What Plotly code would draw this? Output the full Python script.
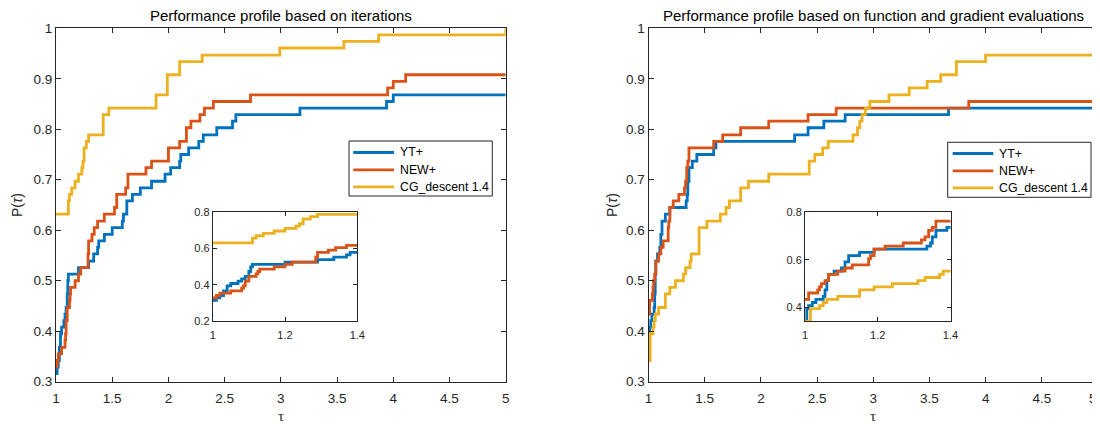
import plotly.graph_objects as go

# ---------------- data: performance profiles (step functions) ----------------
# Left panel: based on iterations
it_yt_tau = [1.0, 1.01, 1.02, 1.03, 1.04, 1.05, 1.07, 1.08, 1.09, 1.10, 1.105, 1.11,
             1.20, 1.29, 1.335, 1.37, 1.38, 1.43, 1.50, 1.59, 1.60, 1.63, 1.68, 1.75,
             1.85, 1.97, 2.02, 2.10, 2.11, 2.18, 2.27, 2.31, 2.43, 2.57, 2.60, 3.17,
             3.94, 4.00, 5.0]
it_yt_p = [0.316, 0.329, 0.342, 0.368, 0.395, 0.408, 0.421, 0.434, 0.447, 0.474, 0.500, 0.513,
           0.526, 0.539, 0.553, 0.566, 0.579, 0.592, 0.605, 0.618, 0.632, 0.658, 0.671, 0.684,
           0.697, 0.711, 0.724, 0.737, 0.750, 0.763, 0.776, 0.789, 0.803, 0.816, 0.829, 0.842,
           0.855, 0.868, 0.868]

it_new_tau = [1.0, 1.01, 1.02, 1.05, 1.08, 1.085, 1.09, 1.10, 1.12, 1.125, 1.13, 1.17,
              1.20, 1.22, 1.285, 1.29, 1.32, 1.34, 1.37, 1.43, 1.52, 1.54, 1.62, 1.64,
              1.80, 1.85, 2.00, 2.10, 2.16, 2.20, 2.28, 2.32, 2.40, 2.73, 3.95, 4.00,
              4.11, 5.0]
it_new_p = [0.329, 0.342, 0.355, 0.368, 0.382, 0.395, 0.421, 0.447, 0.461, 0.474, 0.487, 0.500,
            0.513, 0.526, 0.553, 0.579, 0.592, 0.605, 0.618, 0.632, 0.645, 0.671, 0.684, 0.711,
            0.724, 0.737, 0.763, 0.776, 0.803, 0.816, 0.829, 0.842, 0.855, 0.868, 0.882, 0.895,
            0.908, 0.908]

it_cg_tau = [1.0, 1.11, 1.12, 1.14, 1.17, 1.20, 1.23, 1.24, 1.25, 1.27, 1.29, 1.42,
             1.47, 1.89, 1.99, 2.10, 2.30, 2.99, 3.56, 3.87, 5.0]
it_cg_p = [0.632, 0.658, 0.671, 0.684, 0.697, 0.711, 0.724, 0.737, 0.763, 0.776, 0.789, 0.829,
           0.842, 0.868, 0.908, 0.934, 0.947, 0.961, 0.974, 0.987, 1.0]

# Right panel: based on function and gradient evaluations
fg_yt_tau = [1.0, 1.005, 1.01, 1.02, 1.03, 1.05, 1.055, 1.06, 1.065, 1.08, 1.10, 1.11,
             1.12, 1.15, 1.19, 1.335, 1.345, 1.35, 1.36, 1.39, 1.43, 1.58, 1.60, 2.30,
             2.42, 2.56, 2.75, 3.67, 5.0]
fg_yt_p = [0.342, 0.395, 0.408, 0.421, 0.434, 0.447, 0.474, 0.513, 0.539, 0.553, 0.566, 0.592,
           0.618, 0.632, 0.645, 0.658, 0.671, 0.697, 0.724, 0.737, 0.750, 0.763, 0.776, 0.789,
           0.803, 0.816, 0.829, 0.842, 0.842]

fg_new_tau = [1.0, 1.01, 1.035, 1.04, 1.045, 1.055, 1.065, 1.09, 1.11, 1.13, 1.175, 1.18,
              1.19, 1.22, 1.27, 1.32, 1.33, 1.34, 1.35, 1.36, 1.58, 1.66, 1.82, 2.07,
              2.42, 2.67, 3.85, 5.0]
fg_new_p = [0.434, 0.461, 0.474, 0.487, 0.500, 0.513, 0.539, 0.553, 0.566, 0.579, 0.605, 0.618,
            0.645, 0.658, 0.671, 0.684, 0.697, 0.724, 0.737, 0.763, 0.776, 0.789, 0.803, 0.816,
            0.829, 0.842, 0.855, 0.855]

fg_cg_tau = [1.0, 1.015, 1.04, 1.05, 1.06, 1.09, 1.15, 1.19, 1.24, 1.31, 1.33, 1.37,
             1.38, 1.45, 1.52, 1.64, 1.69, 1.72, 1.82, 1.89, 2.07, 2.43, 2.48, 2.55,
             2.60, 2.82, 2.86, 2.88, 2.90, 2.93, 2.97, 3.14, 3.32, 3.48, 3.60, 3.74,
             4.00, 5.0]
fg_cg_p = [0.342, 0.395, 0.408, 0.421, 0.434, 0.447, 0.474, 0.487, 0.500, 0.513, 0.526, 0.539,
           0.553, 0.605, 0.618, 0.632, 0.645, 0.658, 0.684, 0.697, 0.711, 0.737, 0.750, 0.763,
           0.776, 0.789, 0.803, 0.816, 0.829, 0.842, 0.855, 0.868, 0.882, 0.895, 0.908, 0.934,
           0.947, 0.947]

series_names = ["YT+", "NEW+", "CG_descent 1.4"]
colors = ["#0072BD", "#D95319", "#EDB120"]
titles = ["Performance profile based on iterations",
          "Performance profile based on function and gradient evaluations"]
main_xticks = [1, 1.5, 2, 2.5, 3, 3.5, 4, 4.5, 5]
main_xticklabels = ["1", "1.5", "2", "2.5", "3", "3.5", "4", "4.5", "5"]
main_yticks = [0.3, 0.4, 0.5, 0.6, 0.7, 0.8, 0.9, 1.0]
main_yticklabels = ["0.3", "0.4", "0.5", "0.6", "0.7", "0.8", "0.9", "1"]
inset_xticks = [1, 1.2, 1.4]
inset_xticklabels = ["1", "1.2", "1.4"]
inset1_yticks = [0.2, 0.4, 0.6, 0.8]
inset2_yticks = [0.4, 0.6, 0.8]

# the right panel's last tick label sits at the page edge; it is drawn as a
# right-aligned label so it stays fully inside the page
right_xticklabels = main_xticklabels[:-1] + [""]
right_edge_label = main_xticklabels[-1]

# ---------------- figure ----------------
# the page body has an 8px margin, so window pixel p maps to figure pixel p - 8
OFF = 8
W, H = 1092, 416
FONT = "Liberation Sans, Arial, Helvetica, sans-serif"
TXT = "#262626"
TICK_SIZE = 13.5

def px_x(p):
    return (p - OFF) / W

def px_y(p):
    return 1 - (p - OFF) / H

fig = go.Figure()

panels = [
    ([it_yt_tau, it_new_tau, it_cg_tau], [it_yt_p, it_new_p, it_cg_p]),
    ([fg_yt_tau, fg_new_tau, fg_cg_tau], [fg_yt_p, fg_new_p, fg_cg_p]),
]

LW = 2.8
for pi, (taus, ps) in enumerate(panels):
    xa = "x" if pi == 0 else "x2"
    ya = "y" if pi == 0 else "y2"
    xi = "x3" if pi == 0 else "x4"
    yi = "y3" if pi == 0 else "y4"
    for k in range(3):
        fig.add_trace(go.Scatter(
            x=taus[k], y=ps[k], mode="lines", name=series_names[k],
            line=dict(color=colors[k], width=LW, shape="hv"),
            xaxis=xa, yaxis=ya, showlegend=False, hoverinfo="skip"))
    for k in range(3):
        fig.add_trace(go.Scatter(
            x=taus[k], y=ps[k], mode="lines", name=series_names[k],
            line=dict(color=colors[k], width=LW, shape="hv"),
            xaxis=xi, yaxis=yi, showlegend=False, hoverinfo="skip"))

axis_common = dict(showline=True, linecolor=TXT, linewidth=1, mirror="allticks",
                   ticks="inside", tickcolor=TXT, ticklen=5, tickwidth=1,
                   showgrid=False, zeroline=False, automargin=False,
                   ticklabeloverflow="allow",
                   tickfont=dict(family=FONT, size=TICK_SIZE, color=TXT))
inset_common = dict(showline=True, linecolor=TXT, linewidth=1, mirror="allticks",
                    ticks="inside", tickcolor=TXT, ticklen=4, tickwidth=1,
                    showgrid=False, zeroline=False, automargin=False,
                    ticklabeloverflow="allow",
                    tickfont=dict(family=FONT, size=11, color=TXT))

main_y_dom = [px_y(381.7), px_y(28.3)]
inset_y_dom = [px_y(321.3), px_y(212.3)]

fig.update_layout(
    width=W, height=H, autosize=False,
    margin=dict(l=0, r=0, t=0, b=0, autoexpand=False),
    paper_bgcolor="white", plot_bgcolor="rgba(0,0,0,0)",
    font=dict(family=FONT, color=TXT),
    showlegend=False,
    xaxis=dict(domain=[px_x(56), px_x(505.7)], range=[1, 5], anchor="y",
               tickvals=main_xticks, ticktext=main_xticklabels,
               ticklabelstandoff=4, **axis_common),
    yaxis=dict(domain=main_y_dom, range=[0.3, 1.0], anchor="x",
               tickvals=main_yticks, ticktext=main_yticklabels, **axis_common),
    xaxis2=dict(domain=[px_x(648.5), px_x(1098)], range=[1, 5], anchor="y2",
                tickvals=main_xticks, ticktext=right_xticklabels,
                ticklabelstandoff=4, **axis_common),
    yaxis2=dict(domain=main_y_dom, range=[0.3, 1.0], anchor="x2",
                tickvals=main_yticks, ticktext=main_yticklabels, **axis_common),
    xaxis3=dict(domain=[px_x(212.7), px_x(357.3)], range=[1, 1.4], anchor="y3",
                tickvals=inset_xticks, ticktext=inset_xticklabels,
                ticklabelstandoff=3, **inset_common),
    yaxis3=dict(domain=inset_y_dom, range=[0.2, 0.8], anchor="x3",
                tickvals=inset1_yticks, **inset_common),
    xaxis4=dict(domain=[px_x(805), px_x(950.5)], range=[1, 1.4], anchor="y4",
                tickvals=inset_xticks, ticktext=inset_xticklabels,
                ticklabelstandoff=3, **inset_common),
    yaxis4=dict(domain=inset_y_dom, range=[0.342, 0.8], anchor="x4",
                tickvals=inset2_yticks, **inset_common),
)

# right panel's edge tick label
fig.add_annotation(text=right_edge_label, xref="x2", yref="paper",
                   x=main_xticks[-1], y=px_y(398.5), xanchor="right", yanchor="middle",
                   xshift=1, showarrow=False,
                   font=dict(family=FONT, size=TICK_SIZE, color=TXT))

# white background behind insets (drawn below traces)
for x0, x1 in [(212.7, 357.3), (805, 950.5)]:
    fig.add_shape(type="rect", xref="paper", yref="paper",
                  x0=px_x(x0), x1=px_x(x1), y0=inset_y_dom[0], y1=inset_y_dom[1],
                  fillcolor="white", line=dict(width=0), layer="below")

# legends (MATLAB-style boxes): box, line samples and labels
legend_boxes = [
    dict(x0=349, x1=492.3, y0=141, y1=196, lx0=353.3, lx1=394, tx=397.5,
         rows=[152.5, 169.8, 186.8]),
    dict(x0=947.7, x1=1091, y0=142.3, y1=197.3, lx0=952.7, lx1=993.3, tx=996.5,
         rows=[153.5, 170.8, 187.8]),
]
for lb in legend_boxes:
    fig.add_shape(type="rect", xref="paper", yref="paper",
                  x0=px_x(lb["x0"]), x1=px_x(lb["x1"]),
                  y0=px_y(lb["y1"]), y1=px_y(lb["y0"]),
                  fillcolor="white", line=dict(color=TXT, width=1), layer="above")
    for k in range(3):
        fig.add_shape(type="line", xref="paper", yref="paper",
                      x0=px_x(lb["lx0"]), x1=px_x(lb["lx1"]),
                      y0=px_y(lb["rows"][k]), y1=px_y(lb["rows"][k]),
                      line=dict(color=colors[k], width=LW), layer="above")
        fig.add_annotation(text=series_names[k], xref="paper", yref="paper",
                           x=px_x(lb["tx"]), y=px_y(lb["rows"][k]),
                           xanchor="left", yanchor="middle", showarrow=False,
                           font=dict(family=FONT, size=12.3, color="#000"))

# titles and axis labels
centers = [(56 + 505.7) / 2, (648.5 + 1098) / 2]
ylab_x = [17, 612]
for i in range(2):
    fig.add_annotation(text=titles[i], xref="paper", yref="paper",
                       x=px_x(centers[i]), y=px_y(15), xanchor="center", yanchor="middle",
                       showarrow=False, font=dict(family=FONT, size=15, color="#000"))
    fig.add_annotation(text="τ", xref="paper", yref="paper",
                       x=px_x(centers[i]), y=px_y(416), xanchor="center", yanchor="middle",
                       showarrow=False,
                       font=dict(family="Liberation Serif, DejaVu Serif, serif", size=15, color=TXT))
    fig.add_annotation(text="P(<i>τ</i>)", xref="paper", yref="paper",
                       x=px_x(ylab_x[i]), y=px_y(205), xanchor="center", yanchor="middle",
                       textangle=-90, showarrow=False,
                       font=dict(family=FONT, size=14, color=TXT))

fig.write_html("out.html")
